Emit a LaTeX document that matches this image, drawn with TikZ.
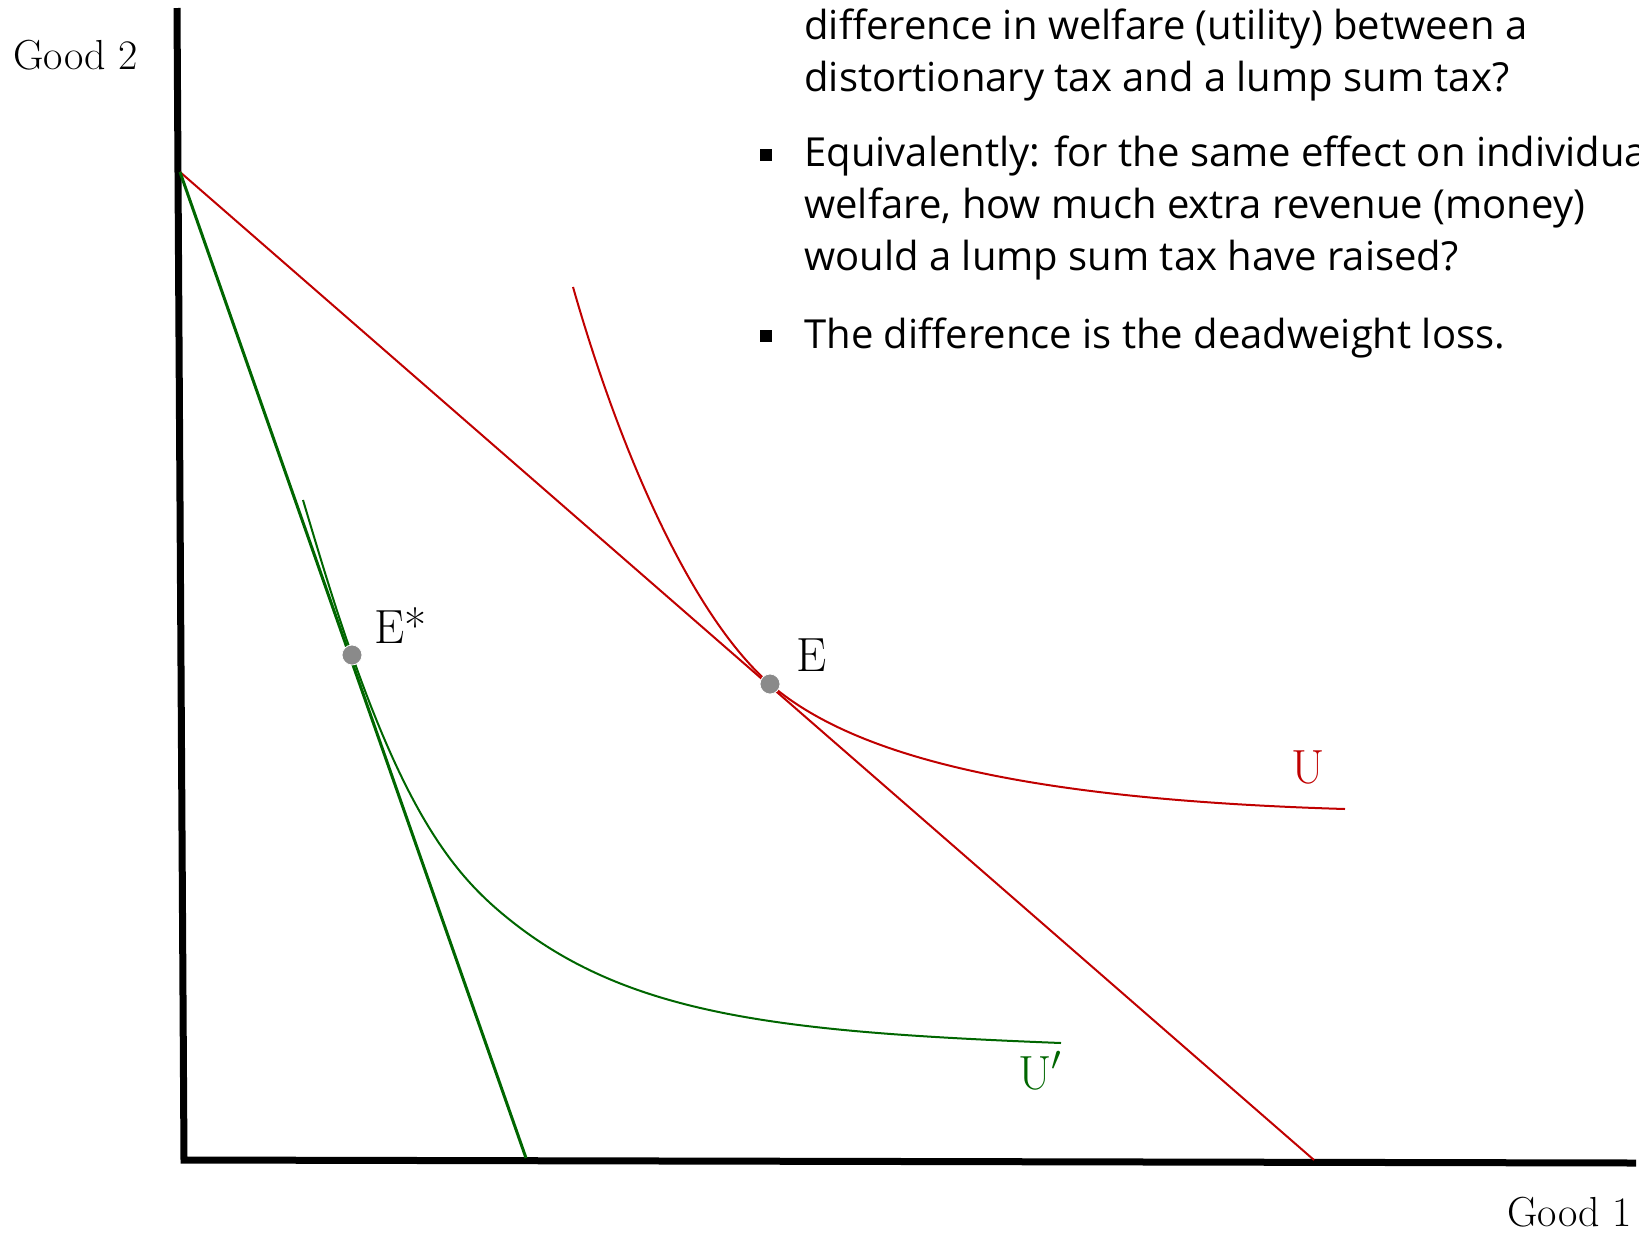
\documentclass[tikz,border=0pt]{standalone}
\usepackage{fontspec}
\newfontfamily\slidefont{Open Sans}
\usetikzlibrary{positioning}
\definecolor{taxred}{RGB}{192,0,0}
\definecolor{taxgreen}{RGB}{0,102,0}
\definecolor{dotgray}{RGB}{138,138,138}

\begin{document}
\begin{tikzpicture}[
  x=0.5pt, y=-0.5pt,
  axis/.style={line width=3.5pt, line join=miter},
  budget/.style={line width=1pt},
  curve/.style={line width=1pt},
  dot/.style={circle, fill=dotgray, draw=white, line width=0.4pt, minimum size=10pt, inner sep=0pt},
  lbl/.style={anchor=base west, inner sep=0pt, font=\fontsize{24}{28}\selectfont},
  axlbl/.style={anchor=base west, inner sep=0pt, font=\fontsize{21}{25}\selectfont},
  txt/.style={anchor=base west, inner sep=0pt, align=left, font=\slidefont\fontsize{20}{25.8}\selectfont},
  bullet/.style={rectangle, fill=black, minimum size=6pt, inner sep=0pt}
]
\useasboundingbox (0,0) rectangle (1639,1233);

% axes
\coordinate (ytop) at (177,8);
\coordinate (origin) at (184,1160);
\coordinate (xend) at (1636,1163);
\draw[axis] (ytop) -- (origin) -- (xend);
\node[axlbl] (good2) at (13,69) {Good 2};
\node[axlbl] (good1) at (1507,1226) {Good 1};

% budget lines
\coordinate (inc) at (180,172);
\coordinate (redx) at (1314,1160);
\coordinate (greenx) at (526,1158);
\draw[budget, taxred] (inc) -- (redx);
\draw[budget, taxgreen, line width=1.5pt] (inc) -- (greenx);

% indifference curves
\coordinate (tanE) at (770,684);
\coordinate (tanEs) at (352,655);
\draw[curve, taxred] (573,287) .. controls (623,462) and (695,619) .. (tanE)
  .. controls (860,762) and (1045,800) .. (1345,809);
\draw[curve, taxgreen] (303,500) .. controls (320,557) and (335,607) .. (tanEs)
  .. controls (412,826) and (460,880) .. (510,920)
  .. controls (630,1016) and (781,1032) .. (1061,1043);

% equilibria
\node[dot] (E) at (tanE) {};
\node[dot] (Estar) at (tanEs) {};
\node[lbl] (Elbl) at (796,671) {E};
\node[lbl] (Estarlbl) at (374,643) {E*};
\node[lbl, taxred] (Ulbl) at (1291,783) {U};
\node[lbl, taxgreen] (Uplbl) at (1018,1089) {U$'$};

% text
\node[txt] (q1) at (804,91) {difference in welfare (utility) between a\\distortionary tax and a lump sum tax?};
\node[bullet] (b2) at (766,155) {};
\node[txt] (q2) at (804,270) {Equivalently: for the same effect on individual\\welfare, how much extra revenue (money)\\would a lump sum tax have raised?};
\node[bullet] (b3) at (766,336) {};
\node[txt] (q3) at (804,348) {The difference is the deadweight loss.};
\end{tikzpicture}
\end{document}
